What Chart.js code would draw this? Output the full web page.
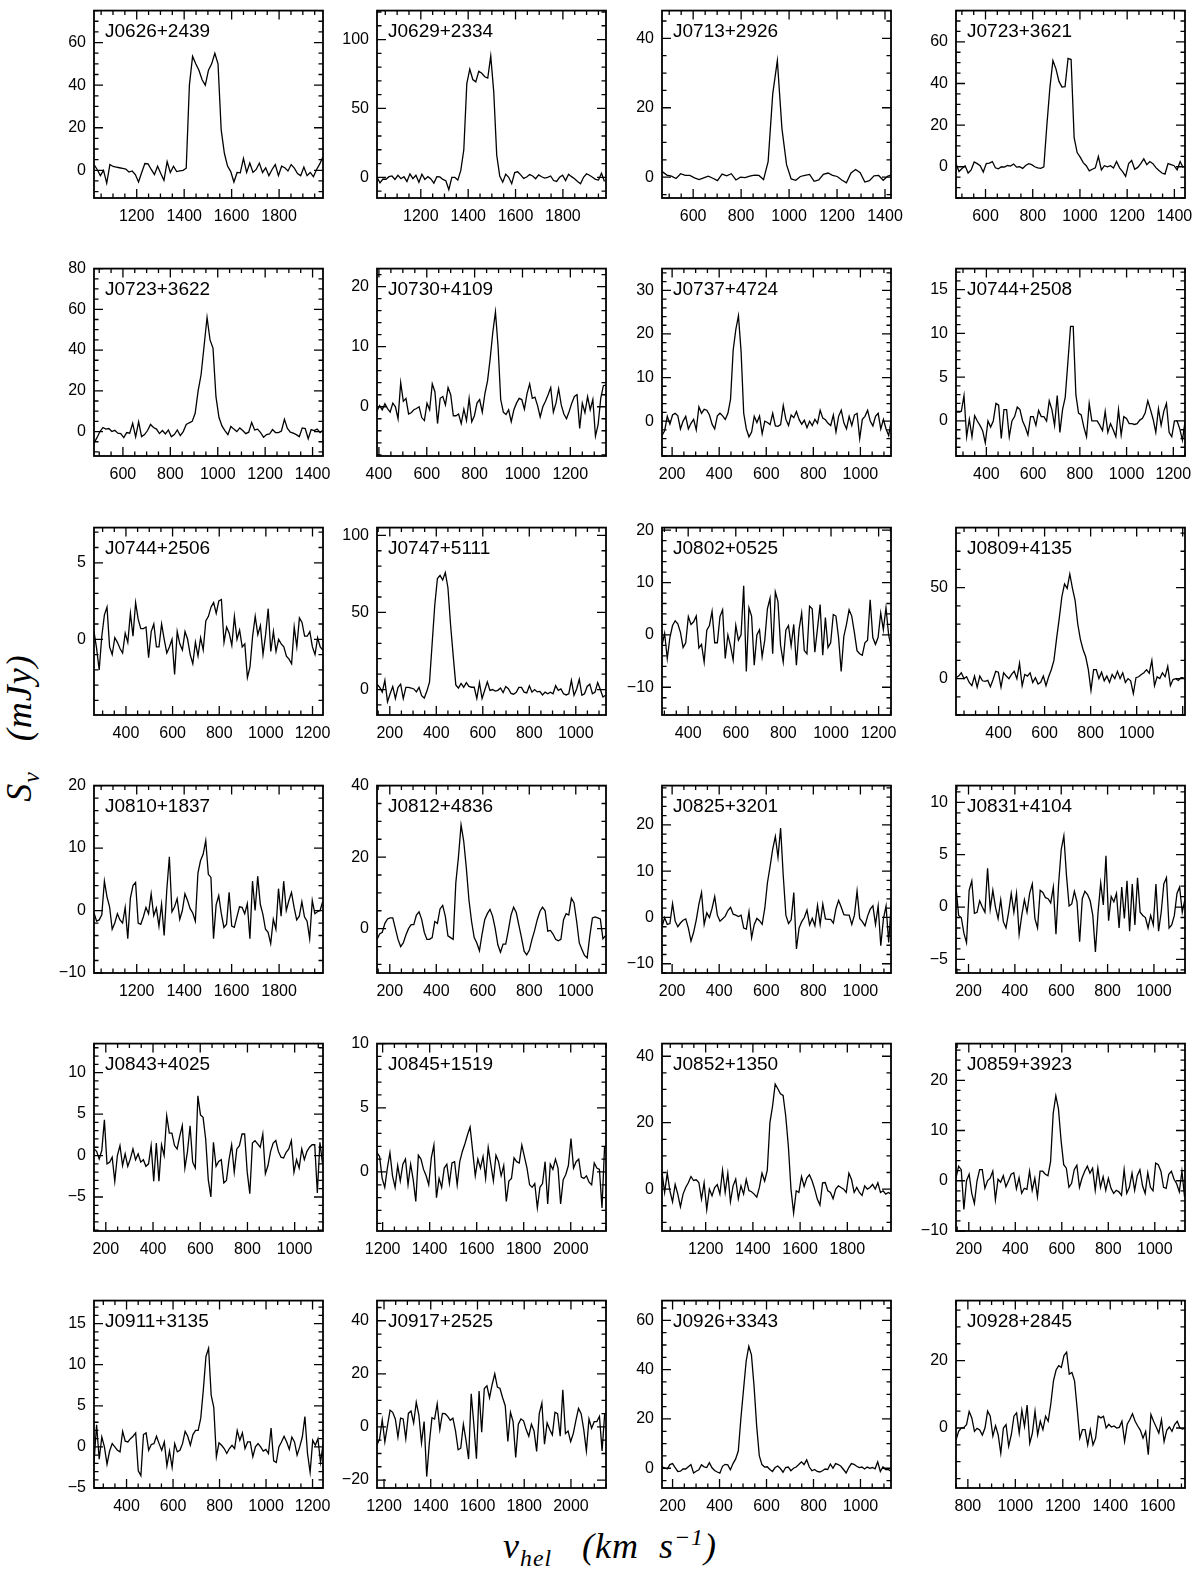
<!DOCTYPE html>
<html>
<head>
<meta charset="utf-8">
<script src="https://cdn.jsdelivr.net/npm/chart.js@4.4.1/dist/chart.umd.min.js"></script>
<style>
  body { margin: 0; background: #fff; }
  #page { position: relative; width: 1200px; height: 1574px; overflow: hidden; background: #fff; }
  canvas { position: absolute; }
  .title { position: absolute; font-family: "Liberation Serif", "DejaVu Serif", serif; font-style: italic; color: #000; white-space: nowrap; line-height: 1; }
  #ytitle { font-size: 36px; left: 22px; top: 728px; transform: translate(-50%, -50%) rotate(-90deg); letter-spacing: 1px; }
  #xtitle { font-size: 36px; left: 610px; top: 1548px; transform: translate(-50%, -50%); letter-spacing: 1px; }
  sub, sup { font-size: 66%; }
</style>
</head>
<body>
<div id="page">
  <div id="ytitle" class="title">S<sub>ν</sub>&nbsp;&nbsp;&nbsp;(mJy)</div>
  <div id="xtitle" class="title">v<sub>hel</sub>&nbsp;&nbsp;&nbsp;(km&nbsp;&nbsp;s<sup>−1</sup>)</div>
</div>
<script>
// HI spectra, 24 galaxies, flux density (mJy) per channel
const names = ["J0626+2439", "J0629+2334", "J0713+2926", "J0723+3621",
  "J0723+3622", "J0730+4109", "J0737+4724", "J0744+2508",
  "J0744+2506", "J0747+5111", "J0802+0525", "J0809+4135",
  "J0810+1837", "J0812+4836", "J0825+3201", "J0831+4104",
  "J0843+4025", "J0845+1519", "J0852+1350", "J0859+3923",
  "J0911+3135", "J0917+2525", "J0926+3343", "J0928+2845"];

// first channel velocity and channel width (km/s)
const vStart = [1020, 1015, 471, 475, 478, 392, 157, 270, 263, 145, 290, 215,
  1020, 145, 157, 146, 150, 1176, 1015, 145, 260, 1170, 155, 750];
const vStep = [13.4, 12.64, 19.2, 12.83, 12.55, 11, 11.2, 11.4, 11.15, 11.3, 11.07, 11.5,
  10.95, 11.3, 11.2, 11.35, 11, 11, 11.15, 11.3, 11.2, 11.2, 11.2, 11.1];

const xMin = [1020, 1015, 470, 475, 478, 392, 157, 270, 263, 145, 290, 215,
  1020, 145, 157, 146, 150, 1176, 1015, 145, 260, 1170, 155, 750];
const xMax = [1985, 1982, 1425, 1445, 1444, 1349, 1130, 1250, 1245, 1130, 1252, 1210,
  1985, 1130, 1130, 1134, 1120, 2150, 1985, 1130, 1245, 2150, 1130, 1715];
const yMin = [-13, -15, -6, -15, -12, -8.2, -8, -4, -4.95, -16.5, -15.3, -20,
  -10, -12.4, -12, -6.3, -9.1, -4.6, -12.6, -10, -5, -23, -8, -17.8];
const yMax = [75, 121, 48, 75, 80, 23, 35, 17.4, 7.3, 105, 20.5, 83,
  20, 40, 28.5, 11.6, 13.5, 10, 43.8, 27.3, 17.8, 47.6, 68, 37.8];

const xTicks = [
  [1200, 1400, 1600, 1800], [1200, 1400, 1600, 1800],
  [600, 800, 1000, 1200, 1400], [600, 800, 1000, 1200, 1400],
  [600, 800, 1000, 1200, 1400], [400, 600, 800, 1000, 1200],
  [200, 400, 600, 800, 1000], [400, 600, 800, 1000, 1200],
  [400, 600, 800, 1000, 1200], [200, 400, 600, 800, 1000],
  [400, 600, 800, 1000, 1200], [400, 600, 800, 1000],
  [1200, 1400, 1600, 1800], [200, 400, 600, 800, 1000],
  [200, 400, 600, 800, 1000], [200, 400, 600, 800, 1000],
  [200, 400, 600, 800, 1000], [1200, 1400, 1600, 1800, 2000],
  [1200, 1400, 1600, 1800], [200, 400, 600, 800, 1000],
  [400, 600, 800, 1000, 1200], [1200, 1400, 1600, 1800, 2000],
  [200, 400, 600, 800, 1000], [800, 1000, 1200, 1400, 1600]];
const yTicks = [[0, 20, 40, 60], [0, 50, 100], [0, 20, 40], [0, 20, 40, 60],
  [0, 20, 40, 60, 80], [0, 10, 20], [0, 10, 20, 30], [0, 5, 10, 15],
  [0, 5], [0, 50, 100], [-10, 0, 10, 20], [0, 50],
  [-10, 0, 10, 20], [0, 20, 40], [-10, 0, 10, 20], [-5, 0, 5, 10],
  [-5, 0, 5, 10], [0, 5, 10], [0, 20, 40], [-10, 0, 10, 20],
  [-5, 0, 5, 10, 15], [-20, 0, 20, 40], [0, 20, 40, 60], [0, 20]];
const yMinor = [5, 10, 5, 5, 5, 2, 2, 1, 1, 10, 2, 10, 2, 5, 2, 1, 1, 1, 5, 2, 1, 5, 5, 5];

const f0626 = [2.7, 0.4, -2.5, 0, -6, 2.7, 1.8, 1.5, 1.2, 0.9, 0.6, -0.8, -0.3, -2, -5.5, -1, 3.2, 3, 0.4, -2,
  1.9, -1.5, -4.7, 4.1, -1, 1.9, -0.6, -0.3, 0, 1, 40, 53.5, 50, 47, 42.5, 40, 47, 50, 55, 50,
  19, 8, 2, -0.6, -5.5, -1, -1.2, 5.6, -1, 3.4, -1, 0.4, 3.4, -1, 1.2, -2.5, 0.4, 2.7, -2.5, 1.9,
  1.2, -0.3, 2.7, 1, -1.5, -2.5, 1.5, -2.5, -1, -3, 0.4, 3, 6.4];
const f0629 = [0, -4, -1.2, -1.4, 0.5, 1, -1.5, 1.5, -1, 0.5, -3, 2.5, -1, 1.5, -3.5, 2.3, -1.5, 0.5, -1.2, -4.2,
  0.5, 0.3, -1.5, -2.5, -9, 0, 0, -2, 5, 20, 68, 78.5, 71, 69.3, 77, 75.5, 73, 72, 88, 62,
  16, 1, -3.5, 2.3, 0, -4.6, 3.5, 4, 1.8, -0.8, 0.2, 2, 1, -1, 1.8, 0.4, -0.5, 0, 1, -2.3,
  -3, 0, 1.5, -2.3, 2.3, 0.5, -1, -3, -4.6, 0, 2.6, 1.5, 0, -1.5, -2, 3, -3];
const f0713 = [1.6, 0.6, 0.3, -0.4, 1.0, 0.5, 0.5, -0.2, -0.7, -0.2, 0.3, -0.3, -1.0, 0.9, 0.4, 1.0, -0.8, 0, -0.1, 0.3,
  0.6, 0.5, -0.7, 4.5, 24, 33.6, 14, 3.6, -0.5, -0.9, 0.2, 0.5, 0.8, -1.2, -0.8, 0.8, 1.2, 0.5, 0.2, -0.8,
  -1.6, 1.2, 2.2, 1.3, -1.4, -1.0, 0.4, 0.5, -0.9, 0.3, 0.7];
const f0723a = [1.5, -2.3, -0.8, 0.5, -3, -1.5, 2.3, 1.5, 0.5, -2.5, 1.5, 1.8, 2.5, -0.5, -1, 0, -0.2, 0.6, 0.3, 1.3,
  -0.2, 0, -0.8, 0.6, 1.5, 1, 0, -0.5, -0.8, 0, 20, 38, 51, 47, 41, 38.3, 38.5, 52, 51.5, 14,
  6.8, 4.6, 2, 0.5, -2, -1.2, -0.5, 4.9, -1.5, 0.5, 0, 0.5, -0.6, 2.5, -0.5, -2.3, -4.6, 1.5, 3, -1.2,
  -0.3, 1.5, 3.8, 1, 2.5, 1.5, -0.4, -1.8, -3, -3.5, 1.5, 1, 0.5, -1.5, 2.5, -0.5];
const f0723b = [-5.7, -3, 0, 2, 1.2, 1.5, 0, 0.6, -0.8, -1, -3, -0.5, -0.8, 4, -2.6, 4.8, -2.5, -1.5, 0.5, 3.5,
  2, 1.2, -1, 0.5, -1.2, 0.8, -2.5, -1.5, 0.8, -2, 0, 3.5, 4.3, 5, 9, 20, 28, 42, 56, 45,
  41, 17, 7, 2.8, 0.5, -1.5, 2.5, 1.2, 0, 1.8, 0.5, -1, -0.3, 4.5, 0.8, 1.2, -0.5, -2.8, -1.5, -1.2,
  1, -0.5, -0.5, 0.3, 6, 1.5, -0.3, -0.8, -1.5, -2.5, 1.8, 1.5, -3.5, 1, 0.5, 1.2, -0.5, 0.8];
const f0730 = [-0.7, 0.2, -0.5, 0.5, -0.3, -0.9, 0.6, 0, -2, 4, 0.9, 1.4, -1.2, -1, -0.5, -0.3, 0, -1.8, -2.3, 0.6,
  -0.5, 3.8, 2.5, -2.8, 1.4, 1.7, 0.3, 3.2, 2, -1.5, -1.5, -1.2, -2.8, -0.4, -2.3, 1.4, -2.5, -1.5, 0.6, 1.2,
  -0.9, 2.2, 4.3, 8, 12.4, 15.8, 10, 1.2, -0.9, -1.3, -0.5, -2.5, -0.5, 0.6, 1.4, 1.2, -0.4, 2.2, 3.8, 1.4,
  1.6, 0.2, -1.7, 0, 0.9, 2, 3.2, -0.9, 0.6, 3, 0.3, -1.2, -2, -0.8, 0.6, 1.7, 2, -3.6, 0.6, -1,
  1.7, -0.5, 1.2, -4.9, -3, 1.4, 3.5, 3.6];
const f0737 = [-3.3, -2.2, 1.1, -0.7, 1.4, 1.8, 1.2, -1.8, 0, 1.1, -1.8, -0.5, 0.4, -2, 3.3, 1.8, 2.7, 2.5, 1.4, -0.7,
  -1.8, 1.2, 1.8, 1.2, 0.4, 1.8, 5, 16.3, 21, 24.2, 16, 1.8, -1.8, -3.6, -2.5, 1.1, -0.3, 1.2, -2.9, 0,
  -0.3, -0.8, 1.8, -1.1, -1.2, -0.8, 3.6, 0.4, -1, 1.4, 0.8, 2.2, 0.4, -0.7, 0.2, -1.5, 0, -1, 0.4, -0.5,
  2.5, 0.7, 0.3, -0.5, -1, 1.4, -2.5, 1.1, 2.5, -0.4, -1.8, 1.1, -1, 1.4, 1.8, -4, 0.4, 1.1, 2.5, 0,
  -1.1, 1.1, 1.8, -1.8, 0.4, -1.8, -3.3, 0.4];
const f0744a = [1.1, 1.1, 1.1, 2.9, -1.8, 0.2, -1.8, 0.6, 0, -0.5, -1.1, -2.5, 0, -0.7, 0, 2, 1.8, -2, 1.3, 1.3,
  -1.8, 0, 0.5, 1.6, 1.3, 0, -0.7, -1.6, 0.5, 0.5, -0.5, 1.2, 0.5, 0.5, 0, 2.3, 1.3, -0.5, 2.9, -1.3,
  1.3, 2.7, 6.7, 10.8, 10.8, 3, 0.9, 0.7, -0.7, -1.8, 2, 0, 0, 0, -0.5, -1.1, 1.1, -1.3, -0.3, -1,
  -1.8, 1.3, -1.6, 0.5, 0.3, -0.3, -0.3, -0.4, -0.3, 0.1, 0.3, 0.9, 2.3, 1.3, 0.2, -1.3, 1.4, -0.5, 1.1, 2,
  -1.3, -1.8, 0, 0, -0.9, -2.2, 0];
const f0744b = [0.5, -0.6, -2, 0.2, 1.6, 2.1, -0.5, -1, 0.1, -0.2, -0.6, -0.9, 0.4, -0.2, 1.7, 0.2, 2.4, 1.3, 0.7, 0.7,
  0.8, -1.2, 0.5, 1, -0.5, -0.5, 1, 0, -0.9, -0.5, 0, -2.3, 0.5, -0.3, -0.7, 0.5, 0, -1, -1.6, -0.2,
  -1.1, 0.1, -0.7, 1.2, 1.5, 2.1, 2.4, 1.7, 2.5, 2.6, -0.2, 0.8, 0.4, -0.4, 1.5, 0, 0.6, -0.5, -0.3, -2.5,
  -1.8, 0.2, 1.5, 0.3, 0.9, -1, 0.3, 2, -0.8, 0.5, -0.8, 0, -0.3, -0.5, -1.1, -1.3, -1.6, 0.8, -0.5, 1.4,
  1.1, 0.2, 0.2, 0.5, -0.5, -1, 0.1, -0.5, -0.7];
const f0747 = [3.5, 1.5, -1.7, 6, -7.9, -2.7, 2, -5.8, 1.4, 3.5, -5.8, 1.4, 1.4, 1, 0.4, -1.5, 1.4, -4, -5.5, -1,
  5, 30, 55, 72, 74, 71, 75.8, 66, 42, 22, 3, 1, 4, 1.5, 4.5, 2, 1.5, 1.5, -5.8, 4.5,
  -5.8, -0.5, 5, -0.5, 0, -1, -0.5, 1, -2, 2, 0.5, -2.5, -3, -1.8, 1.4, 1.4, -1.7, -2.2, 2.5, -1.7,
  0, -1.5, -1.2, -3.5, -1.7, -2.7, -1.7, -2.7, 2.5, -0.5, 0.4, -2.7, -3.5, -2.7, 6, -3.7, 0.4, 6.6, -3.7, -2.7,
  2, 3.5, -2.7, -1.7, 4.5, 0, -4.8, -3.7];
const f0802 = [-2, 0.3, -4.5, -0.5, 1.8, 2.7, 2.1, 0.5, -2.4, -1.5, 3.5, 2, 2.5, 3.6, -2.5, -1.8, -5.2, 0.9, 1.8, 4.5,
  -1.5, -1.5, 3.5, 4.8, -4.5, 0, -2.1, -4.8, 1.8, -1, 0, 9.4, -7, 5.2, 3.6, -5.8, 0, 1, -4.2, -1,
  5, 7, -3.6, 8.2, 6.4, -2, -5.2, 0.9, 1.8, -2.1, 2, -5.8, 1, 4.2, -3, -3.6, 5.5, 5, -3.3, 1.2,
  5.8, -3.9, 3.3, -2.4, -1.5, 3.9, 3.6, -0.5, -7, -0.3, 2, 4.8, 3.6, 0.5, -3, -3.6, -3.9, -1.5, -1, 6.7,
  -0.5, -1.8, -0.5, 4.2, 1, 5.2, 0, -2.4];
const f0809 = [0.5, 1.4, 3.2, 0, 1, -2.1, -3.9, 1.4, -4.7, 1.4, -1.2, -1.5, -1, -4.5, -0.5, 4, 3.5, -4.7, 3.2, 1.4,
  0, 2.3, 4, 0, 8.4, -3.9, 2.3, 1.4, 3.2, -2.1, 0.5, -3, -2, 1.4, -3.9, 1, 4.9, 10, 22, 33,
  45, 52, 49.6, 57.5, 49.6, 43, 30, 21.6, 16, 12, 4.9, -6.5, 4.9, 4.9, 0, 3.5, -1.2, 1.4, -2.1, 2.3,
  0, 4, 0, 3.2, -2.1, 0, -1.2, -8.2, 0.5, 1, 2.3, 3.2, 4.9, 3, 10, -3.9, 1, 0, 3.2, 1,
  6.7, -3.9, -0.5, 0, -1, 0.5, 0.5];
const f0810 = [-0.4, -1.7, -1.5, -0.7, 4.7, 2.2, 0.6, -3, -2, -0.5, -1.5, -2, 0.5, -4.5, 2, 4, 4.5, -2, -2.2, -1,
  0.5, -0.5, 2.7, -0.8, 0.4, -2.5, 1, -4, 3.2, 8.6, -0.2, 0.6, 1.9, -1.4, 0, 2.7, 1.6, 0.3, -0.4, -1.7,
  6, 8, 9, 11.2, 5.8, 5.3, -4.5, 0.9, 2.4, -0.5, -2.7, -2.2, 2.9, -2.5, -2.7, -1, 0.6, 0.5, -0.5, 1.1,
  -4.5, 4.7, 0, 5.5, 1, -0.6, -3, -3.5, -5.3, -1.4, -3, 3.5, -0.9, 4.7, 0, 1.6, 2.9, 0.5, -1.5, -0.9,
  1.4, -1, -1.7, -4.5, 1.6, -0.5, -0.2, 0, 1.4];
const f0812 = [-3, -1.5, -1, 1.5, 2.7, 3, 3, 0, -3, -5, -4, -1.8, 0, 1.1, 1.1, 3.8, 4.7, 2.6, -1, -3,
  -3, -2.5, 2, 1.5, 5.5, 6.5, 3.5, -2, -2.5, -3, 12.8, 20, 29, 24.5, 17, 8, 2, -2.5, -4, -6.2,
  -1.5, 2.5, 4.2, 5.4, 3.5, 0, -4.5, -6.6, -4.3, -4.3, -0.5, 3.8, 6, 4.5, 1, -2.5, -6.3, -7.3, -6, -3,
  -0.5, 2.5, 4.8, 6, 5, -0.7, -0.5, -1.5, -3, -3.4, -3, 2.5, 4.2, 3.8, 8.5, 7.2, 2, -4, -5.8, -7.5,
  -8.2, -2, 3, 3.3, 3, 2.7, -2.8, -2];
const f0825 = [-2, 0, -1.5, -1.3, 3, -0.8, -2, -1.2, -0.6, -0.3, -2.3, -5.1, -3.2, -0.5, 2.9, 5.4, -1.5, 1, 0, 2,
  4.5, 0.5, -0.8, -0.3, 0.3, 1.5, 2.2, 0.7, 0.5, 0.2, 0.5, -2.3, -2.5, 1.2, -4.4, -1.5, -0.2, -0.7, -1.5, 2,
  7.5, 11, 14.8, 17.5, 13, 19.3, 9, 0.5, -1.3, -0.5, 5.4, -6.8, -2.3, -0.9, 0, 1.6, -1.6, -0.2, -1.8, 2.6,
  -1.5, 2.9, -0.3, -0.4, -0.4, -1.2, 1.9, 3.7, 2.2, 0.6, 0.5, 0.5, -1.5, 0.5, 5.7, -0.2, -0.9, -1.8, 0.3, 1.8,
  2.5, -1.5, 2.5, -6.1, -0.3, 2.5, -5.4, 3.3];
const f0831 = [1.9, -0.8, -1, -2.5, -3.4, 1.6, 2.5, -0.6, -0.5, 0.6, 0, -0.5, 3.7, -0.2, 1.6, 0, -1.1, 0.7, -1.4, -2,
  -0.5, 1.3, -0.5, 1.3, -2.6, -0.8, 0.7, -0.5, 1.3, 2.2, -1.1, -2, 1.6, 1.4, 0.9, 0.8, 0.4, 1.9, -2.6, 2.2,
  5.5, 6.8, 3, 0.1, 0.3, 1.5, 0.5, -3.3, 0.8, 1.5, 1.2, 0.6, -0.8, -4.3, -0.5, 2.3, 0.2, 4.9, -1.3, 1,
  0.5, 1.3, -2, 1.9, -1.1, 2.5, -2.3, 2.2, -1.7, 2.8, -0.5, -0.8, -1, -2, -0.8, -1.7, 2.2, -2.3, -0.5, 2.2,
  2.8, -2, -1.7, -0.8, 1.3, 1.9, -0.5, 0.7];
const f0843 = [0.8, 0.5, -0.4, 0.6, 4.3, -1, -0.8, -0.2, -3.1, 0, 1.2, -1.2, 0.2, -1.3, -0.4, 0.8, -0.5, 0.2, -0.8, -0.5,
  -1.3, -1, 1.2, -3.1, 1.5, -3.1, 1.3, 0, 4.8, 2.7, 2.7, 1.2, 0.8, 2.3, 3.6, -1.5, 0.5, 3.6, -0.8, -1.5,
  7.2, 4.9, 4.6, 2, -2.9, -5, 1.6, -1.3, -0.7, -0.5, -3.3, -3, -0.5, 1.3, -2, 0.8, 1.2, 2.6, 2.6, -2,
  -4.6, 1.5, 1.8, 1.4, 1, 2.6, -2.2, -1.2, 0.5, 1.5, 1.8, 0.5, -0.2, -0.3, 0.4, 0.8, 1.8, -2, -0.5, -1.5,
  0.8, -0.5, 0.5, 1, 1.3, 1.3, -4.5, 1.6, -1];
const f0845 = [1.5, 1.2, -0.5, -1.2, 0.3, 1.5, -0.3, -1.2, 0.5, -0.7, 0.6, 1, -1, 0.6, -0.6, -2.3, 1.3, 1, 0.2, -0.3,
  -1, 1.1, 2.1, -2, -0.5, -1.2, 0.3, 0.6, -0.9, 0.7, 0.8, -1, 0.8, 1.6, 2.2, 2.9, 3.5, 1.6, -0.3, 1.0,
  0.3, 1.2, -0.5, 1.9, 0.6, -0.7, 1.3, 0.8, -0.3, 0.5, -2.3, -0.7, -0.5, 1.1, 0.8, 0.7, 2.1, 1.2, 0.3, -1,
  -1.2, -0.9, -2.8, -1.2, -0.9, 0.8, -2.5, 0.6, 0.2, 1, 0.3, -2.5, -0.6, -0.2, 0.5, 2.6, 0.3, 0.8, 1, -0.4,
  -0.5, -0.3, -0.8, -1, 0.7, 0.3, 0.2, -2.8, 2];
const f0852 = [5, -1, 4.8, -0.5, -3.8, 1.4, -1.5, -5.3, -1.5, 0.5, 1.9, 3.8, 2.6, 2.8, 2, -3, 1.9, -6.2, 0, -2,
  0.5, 1.4, -1.5, 5.7, -1, 4.8, -3.8, 1, 3, -2.9, 1, -1.5, 2.9, -0.4, -0.8, -1.5, -2.4, 0.5, 4.8, 2.4,
  5.7, 20, 25, 31.6, 30.2, 28.7, 28.2, 22, 13, 0, -7.2, -0.5, -1, 3.8, 0.8, 3.3, 4.3, 2.5, 0, -3,
  -4.8, 1.9, 2, -0.5, -1, -2.9, 0, 1, 0.5, 0, -1, 4.8, 2.9, -1, 0.5, -1, -1.9, 1, 0, 0.5,
  1.4, 0, 1.9, -1, -0.5, -1.5, -1, -1.5];
const f0859 = [0.6, 2.9, 2.2, -5.7, 0, 1.3, -2.5, -4.5, 0, 2.2, 2.2, -1.5, 0, 0.5, 1.9, -3.8, 0.3, -0.3, 1, -1.2,
  0, 1.3, 1.6, -1.6, 0.6, -2.5, -1.5, -1.7, 1.9, -1.9, 0.5, -3.2, 1.9, 1.9, 1.3, 1, 3.8, 13.4, 16.9, 14.3,
  8, 3.2, 2.5, -1.3, -0.5, 2.2, 3.1, -1.3, 0.6, 1.9, 2.9, 1.5, 2.5, -1.9, 2.5, -1.3, 0.8, -1.9, 0.5, -1.5,
  -2.5, -1.9, -2.2, -2.9, 2.2, -2.5, -1.3, 1.5, -1.9, 1, 2.2, -1, -2.5, 1.6, -1.3, -2, 3.5, 3.2, 1.9, -1.3,
  -1.5, 1.3, 1.9, 0.3, -0.6, -2.2, 1.9, -3.2];
const f0911 = [-1.9, 2.7, -1.5, 1.2, 0, -2.1, -0.5, 0.4, 0, -0.4, -0.6, 1.9, 0.7, 0.6, 1, 1.3, 1.7, -2.9, -3.5, 1.5,
  1.7, -0.4, 0.3, 0.4, 1.3, 0.4, -0.4, 0.6, -2.3, -0.5, -2.5, 0.4, -0.6, -0.4, 0.4, 1.9, 1.3, 0.2, 1.5, 2,
  2, 3.5, 7, 11, 12, 6.3, 4.8, -1.2, 0.5, 0.2, -0.2, -0.8, -0.2, 0.2, -0.2, 2, 0.8, 1.7, -0.2, 0.6,
  0.6, -1.2, 0, 0.4, 0, -0.5, -0.3, -0.8, 2.3, -1.7, -1.9, 0, 0.6, 1.3, 0.6, -0.3, 1.2, 0.6, -1, 0,
  1.2, 3.7, -0.8, -3.1, 0.8, 0.2, 1, -1.9, 0.4];
const f0917 = [-6.8, -4.5, 2.7, -5.6, 0.5, 6.3, 5.5, 3, -3.8, 3.3, 3, -4.4, 5.1, 6, 1.5, 9.3, 4.5, -6, 2, -18.7,
  -6, 3.5, 3, 8.7, -1, 5.1, 5, 4, 2.5, 3.3, -1.5, -8.6, -8, 1, -5, -12.1, 12.5, 1, -12, 13.5,
  -2, 14.5, 15.5, 11, 16, 20, 15, 14.5, 11, 8, -5.5, 5.5, 2, -11.5, 1, 3, 2.3, -1, -3.5, 1,
  -1.5, -9.2, 5, 9, -6.5, 1.5, -1, -3, 5.5, 5, -3.5, 14, -2.5, -1.5, -5.5, -2.5, 2.5, 7, 5, -1,
  -9, 3, -0.5, 2, 2, 4, -9, 5];
const f0926 = [0.6, 0.2, -0.3, 1.5, 1.9, 0.3, -1.3, -1.2, -0.3, -0.3, 0.6, 1.5, -1.9, -1.2, -0.6, 1.4, 0.6, 0.3, 2.3, 0.2,
  -0.9, -1.5, -2, 0.8, 1.6, 1.4, -0.6, 1.9, 3.8, 7, 20.4, 32, 43.5, 49.5, 46, 33.2, 17, 5, 1.5, 0.5,
  0.6, -0.5, -1.3, 0.3, 0.9, -0.1, -1.6, 0.3, 0.5, -1, 0, 0.5, 1.5, 2.6, 1.5, 3.4, 0.5, -1, -0.5, -1.3,
  -1.5, -1, -0.3, -0.5, 1.7, 0, 1.9, 1.5, 0.8, -0.5, -1.9, 0.3, 1.9, 1.6, 0.8, 0.3, 0.5, -0.3, 0.5, 0,
  0.3, -0.2, 2.6, -1.3, 0.6, -0.5, -0.5, -1.2];
const f0928 = [-3.6, -1, 0, 0.2, 1, 4.9, 3, -1, -0.1, -0.6, -2.1, 0, 5, 3.5, -2.4, 0.7, -2, -7.5, 0, 1,
  -5.4, -2, 3.5, 4.5, -1.5, 5.3, 0.5, 6.8, -4.5, -1.5, 5, -2, 2, -0.5, 3.5, 2, 7.2, 14, 17.2, 18.5,
  18, 21.5, 22.5, 16, 16.5, 14, 5.8, -3, -0.5, -0.5, -5, -0.5, -5, -3, 3.5, 3, 3.5, 0, 1.1, 0.3,
  0.6, 0, 0.2, 2, -4, 1.1, 2.5, 4.2, 2, 0.6, -0.7, -3, -1, -7.9, 4, 2, 0.3, -1.5, 2.5, -4,
  -0.7, 0.3, -1, 1, 2, 0, -0.3, 0];

const flux = [f0626, f0629, f0713, f0723a, f0723b, f0730, f0737, f0744a,
  f0744b, f0747, f0802, f0809, f0810, f0812, f0825, f0831,
  f0843, f0845, f0852, f0859, f0911, f0917, f0926, f0928];

// page layout of the 4 x 6 boxes
const colLeft = [94, 377, 662, 956];
const boxW = 229;
const rowTop = [3, 261, 520, 778, 1036, 1293];
const boxH = 195;
const PAD_L = 50, PAD_R = 26, PAD_T = 10, PAD_B = 32;

const tickFont = { family: "Liberation Sans", size: 16 };
const fmt = v => String(v).replace("-", "\u2212");

// box, inward ticks on all four sides, galaxy name
const frame = {
  id: "frame",
  afterDatasetsDraw(chart, args, o) {
    const { ctx, chartArea: a } = chart;
    const x = chart.scales.x, y = chart.scales.y;
    const marks = (min, max, minor, major, draw) => {
      for (let i = Math.ceil(min / minor - 1e-9); i * minor <= max + 1e-9; i++) {
        const v = i * minor;
        const big = Math.abs(v / major - Math.round(v / major)) < 1e-6;
        draw(v, big ? 9 : 4.5);
      }
    };
    ctx.save();
    ctx.strokeStyle = "#000";
    ctx.lineWidth = 1.3;
    ctx.beginPath();
    marks(x.min, x.max, o.xMinor, o.xMajor, (v, len) => {
      const px = x.getPixelForValue(v);
      ctx.moveTo(px, a.bottom); ctx.lineTo(px, a.bottom - len);
      ctx.moveTo(px, a.top); ctx.lineTo(px, a.top + len);
    });
    marks(y.min, y.max, o.yMinor, o.yMajor, (v, len) => {
      const py = y.getPixelForValue(v);
      ctx.moveTo(a.left, py); ctx.lineTo(a.left + len, py);
      ctx.moveTo(a.right, py); ctx.lineTo(a.right - len, py);
    });
    ctx.stroke();
    ctx.lineWidth = 1.8;
    ctx.strokeRect(a.left, a.top, a.right - a.left, a.bottom - a.top);
    ctx.font = '19px "Liberation Sans"';
    ctx.fillStyle = "#000";
    ctx.textBaseline = "alphabetic";
    ctx.fillText(o.name, a.left + 11, a.top + 26);
    ctx.restore();
  }
};

const page = document.getElementById("page");

names.forEach((name, i) => {
  const col = i % 4, row = Math.floor(i / 4);
  const w = boxW + PAD_L + PAD_R, h = boxH + PAD_T + PAD_B;
  const cv = document.createElement("canvas");
  cv.width = w; cv.height = h;
  cv.style.width = w + "px"; cv.style.height = h + "px";
  cv.style.left = (colLeft[col] - PAD_L) + "px";
  cv.style.top = (rowTop[row] - PAD_T) + "px";
  page.appendChild(cv);

  const pts = flux[i].map((f, k) => ({ x: vStart[i] + k * vStep[i], y: f }));

  new Chart(cv, {
    type: "line",
    data: {
      datasets: [{
        data: pts,
        borderColor: "#000",
        borderWidth: 1.3,
        pointRadius: 0,
        tension: 0,
        fill: false
      }]
    },
    options: {
      responsive: false,
      animation: false,
      events: [],
      layout: { padding: { left: 0, right: PAD_R, top: PAD_T, bottom: 0 } },
      plugins: {
        legend: { display: false },
        tooltip: { enabled: false },
        frame: {
          name: name,
          xMinor: 50, xMajor: 200,
          yMinor: yMinor[i], yMajor: yTicks[i][1] - yTicks[i][0]
        }
      },
      scales: {
        x: {
          type: "linear",
          min: xMin[i], max: xMax[i],
          afterFit: s => { s.height = PAD_B; },
          afterBuildTicks: s => { s.ticks = xTicks[i].map(v => ({ value: v })); },
          grid: { display: false, drawTicks: false },
          border: { display: false },
          ticks: { autoSkip: false, maxRotation: 0, padding: 9, color: "#000", font: tickFont, callback: fmt }
        },
        y: {
          type: "linear",
          min: yMin[i], max: yMax[i],
          afterFit: s => { s.width = PAD_L; },
          afterBuildTicks: s => { s.ticks = yTicks[i].map(v => ({ value: v })); },
          grid: { display: false, drawTicks: false },
          border: { display: false },
          ticks: { autoSkip: false, padding: 8, color: "#000", font: tickFont, callback: fmt }
        }
      }
    },
    plugins: [frame]
  });
});
</script>
</body>
</html>
